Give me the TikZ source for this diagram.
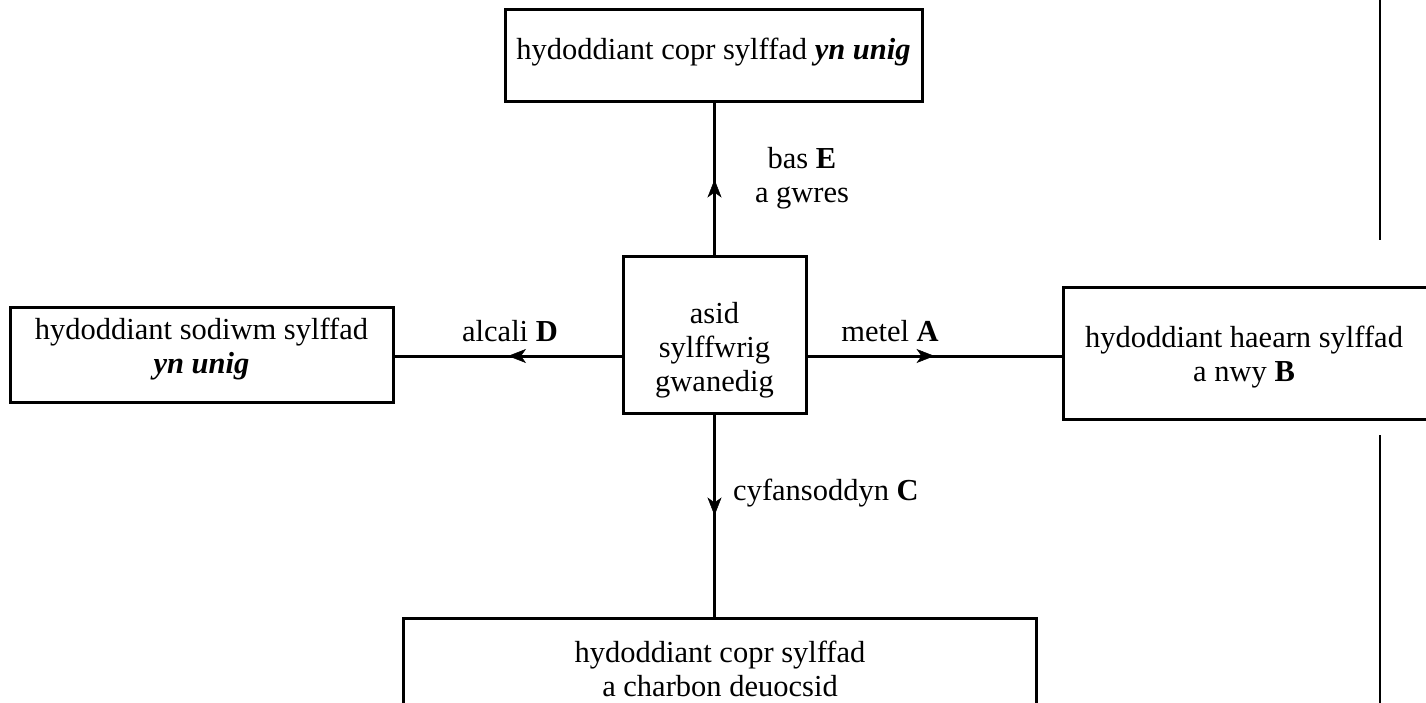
\documentclass[tikz,border=0pt]{standalone}
\usepackage{fontspec}
\setmainfont{Liberation Serif}
\usetikzlibrary{arrows.meta,decorations.markings}
\tikzset{
  box/.style={draw, line width=3pt, inner sep=0pt},
  txt/.style={align=center, inner sep=0pt, font=\fontsize{30.5}{34}\selectfont},
  conn/.style={line width=3pt, postaction={decorate},
    decoration={markings, mark=at position 0.5 with {\arrow[line width=0.5pt]{Stealth[length=18pt,width=14pt,inset=5pt]}}}},
  plain/.style={line width=2.2pt}
}
\begin{document}
\begin{tikzpicture}[x=1pt,y=-1pt]
\path[use as bounding box] (0,0) rectangle (1426,703);
\clip (0,0) rectangle (1426,703);
% boxes
\node[box, minimum width=417pt, minimum height=92pt] (top) at (713.5,56) {};
\node[txt] (toptxt) at (713.5,52) {hydoddiant copr sylffad \textbf{\textit{yn unig}}};
\node[box, minimum width=183pt, minimum height=156pt] (ctr) at (714.5,335) {};
\node[txt] (ctrtxt) at (714.5,350) {asid\\sylffwrig\\gwanedig};
\node[box, minimum width=383pt, minimum height=95pt] (lb) at (201.5,354.5) {};
\node[txt] (lbtxt) at (201.5,349) {hydoddiant sodiwm sylffad\\\textbf{\textit{yn unig}}};
\node[box, minimum width=420pt, minimum height=132pt] (rb) at (1273,353) {};
\node[txt] (rbtxt) at (1244,357) {hydoddiant haearn sylffad\\a nwy \textbf{B}};
\node[box, minimum width=633pt, minimum height=160pt] (bb) at (719.5,698) {};
\node[txt] (bbtxt) at (720,669) {hydoddiant copr sylffad\\a charbon deuocsid};
% connectors
\coordinate (hl) at (714,356);
\draw[conn] (ctr.north) -- (ctr.north |- top.south);
\draw[conn] (ctr.east |- hl) -- (rb.west |- hl);
\draw[conn] (ctr.west |- hl) -- (lb.east |- hl);
\draw[conn] (ctr.south) -- (ctr.south |- bb.north);
% labels
\node[txt] (lE) at (802,178) {bas \textbf{E}\\a gwres};
\node[txt] (lA) at (890,331) {metel \textbf{A}};
\node[txt] (lD) at (510,331) {alcali \textbf{D}};
\node[txt, anchor=west] (lC) at (733,493) {cyfansoddyn \textbf{C}};
% margin rules
\coordinate (m1) at (1380,0);
\coordinate (m2) at (1380,240);
\coordinate (m3) at (1380,435);
\coordinate (m4) at (1380,703);
\draw[plain] (m1) -- (m2);
\draw[plain] (m3) -- (m4);
\end{tikzpicture}
\end{document}
